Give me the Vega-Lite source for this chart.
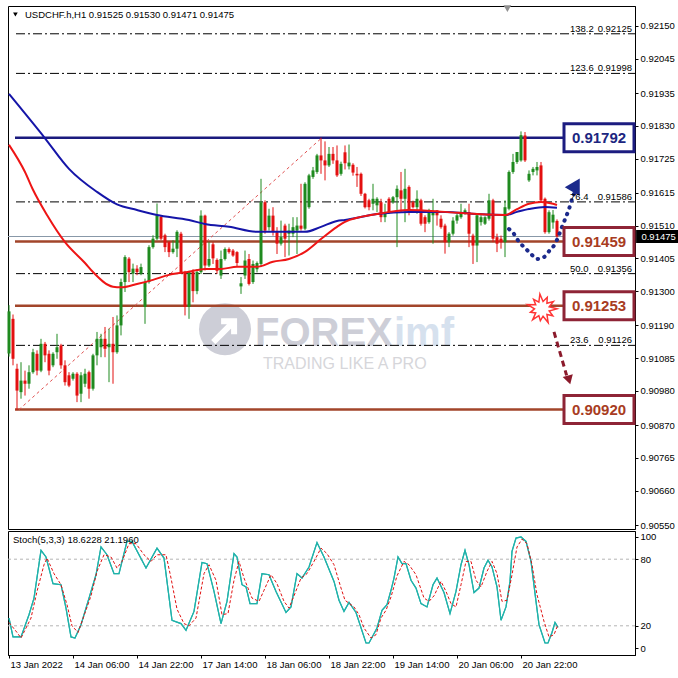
{
"$schema": "https://vega.github.io/schema/vega-lite/v6.json",
"background": "white",
"padding": {"left": 4, "top": 4, "right": 0, "bottom": 0},
"spacing": 2,
"bounds": "flush",
"config": {
  "view": {"stroke": "black", "strokeWidth": 1},
  "axis": {"labelFont": "Liberation Sans", "labelFontSize": 9.5, "labelColor": "black", "domainColor": "black", "tickColor": "black", "grid": false, "tickSize": 3, "labelPadding": 2},
  "text": {"font": "Liberation Sans"}
},
"datasets": {
  "candles": [
    {"i":0,"o":0.91100,"h":0.91255,"l":0.91090,"c":0.91235},
    {"i":1,"o":0.91211,"h":0.91225,"l":0.91062,"c":0.91083},
    {"i":2,"o":0.91051,"h":0.91067,"l":0.90918,"c":0.90981},
    {"i":3,"o":0.90976,"h":0.91072,"l":0.90955,"c":0.91013},
    {"i":4,"o":0.91013,"h":0.91045,"l":0.90965,"c":0.91003},
    {"i":5,"o":0.91003,"h":0.91062,"l":0.90987,"c":0.91040},
    {"i":6,"o":0.91040,"h":0.91115,"l":0.91035,"c":0.91104},
    {"i":7,"o":0.91099,"h":0.91110,"l":0.91030,"c":0.91045},
    {"i":8,"o":0.91045,"h":0.91147,"l":0.91040,"c":0.91131},
    {"i":9,"o":0.91131,"h":0.91137,"l":0.91072,"c":0.91094},
    {"i":10,"o":0.91099,"h":0.91110,"l":0.91030,"c":0.91045},
    {"i":11,"o":0.91062,"h":0.91104,"l":0.91056,"c":0.91099},
    {"i":12,"o":0.91104,"h":0.91163,"l":0.91083,"c":0.91120},
    {"i":13,"o":0.91126,"h":0.91131,"l":0.91051,"c":0.91062},
    {"i":14,"o":0.91062,"h":0.91078,"l":0.90997,"c":0.91008},
    {"i":15,"o":0.91030,"h":0.91040,"l":0.90992,"c":0.90997},
    {"i":16,"o":0.91019,"h":0.91040,"l":0.91013,"c":0.91035},
    {"i":17,"o":0.91035,"h":0.91040,"l":0.90944,"c":0.90965},
    {"i":18,"o":0.90971,"h":0.91040,"l":0.90944,"c":0.91030},
    {"i":19,"o":0.91003,"h":0.91051,"l":0.90992,"c":0.91035},
    {"i":20,"o":0.91040,"h":0.91045,"l":0.90955,"c":0.90987},
    {"i":21,"o":0.90987,"h":0.91099,"l":0.90981,"c":0.91094},
    {"i":22,"o":0.91094,"h":0.91169,"l":0.91062,"c":0.91147},
    {"i":23,"o":0.91120,"h":0.91163,"l":0.91088,"c":0.91147},
    {"i":24,"o":0.91147,"h":0.91185,"l":0.91088,"c":0.91115},
    {"i":25,"o":0.91120,"h":0.91179,"l":0.91008,"c":0.91131},
    {"i":26,"o":0.91131,"h":0.91217,"l":0.91003,"c":0.91104},
    {"i":27,"o":0.91104,"h":0.91222,"l":0.91099,"c":0.91190},
    {"i":28,"o":0.91190,"h":0.91340,"l":0.91158,"c":0.91329},
    {"i":29,"o":0.91329,"h":0.91415,"l":0.91297,"c":0.91409},
    {"i":30,"o":0.91404,"h":0.91409,"l":0.91329,"c":0.91361},
    {"i":31,"o":0.91356,"h":0.91388,"l":0.91329,"c":0.91372},
    {"i":32,"o":0.91372,"h":0.91383,"l":0.91351,"c":0.91361},
    {"i":33,"o":0.91356,"h":0.91388,"l":0.91351,"c":0.91377},
    {"i":34,"o":0.91249,"h":0.91340,"l":0.91195,"c":0.91329},
    {"i":35,"o":0.91329,"h":0.91447,"l":0.91324,"c":0.91441},
    {"i":36,"o":0.91441,"h":0.91479,"l":0.91436,"c":0.91468},
    {"i":37,"o":0.91468,"h":0.91581,"l":0.91463,"c":0.91543},
    {"i":38,"o":0.91538,"h":0.91543,"l":0.91463,"c":0.91468},
    {"i":39,"o":0.91479,"h":0.91484,"l":0.91425,"c":0.91441},
    {"i":40,"o":0.91457,"h":0.91460,"l":0.91409,"c":0.91425},
    {"i":41,"o":0.91425,"h":0.91463,"l":0.91420,"c":0.91436},
    {"i":42,"o":0.91436,"h":0.91495,"l":0.91409,"c":0.91490},
    {"i":43,"o":0.91484,"h":0.91490,"l":0.91355,"c":0.91361},
    {"i":44,"o":0.91361,"h":0.91365,"l":0.91222,"c":0.91249},
    {"i":45,"o":0.91249,"h":0.91365,"l":0.91211,"c":0.91361},
    {"i":46,"o":0.91361,"h":0.91370,"l":0.91264,"c":0.91300},
    {"i":47,"o":0.91300,"h":0.91370,"l":0.91290,"c":0.91361},
    {"i":48,"o":0.91361,"h":0.91559,"l":0.91355,"c":0.91542},
    {"i":49,"o":0.91542,"h":0.91545,"l":0.91366,"c":0.91382},
    {"i":50,"o":0.91382,"h":0.91457,"l":0.91377,"c":0.91403},
    {"i":51,"o":0.91450,"h":0.91457,"l":0.91387,"c":0.91405},
    {"i":52,"o":0.91400,"h":0.91405,"l":0.91355,"c":0.91365},
    {"i":53,"o":0.91350,"h":0.91430,"l":0.91339,"c":0.91403},
    {"i":54,"o":0.91403,"h":0.91440,"l":0.91398,"c":0.91435},
    {"i":55,"o":0.91435,"h":0.91440,"l":0.91420,"c":0.91425},
    {"i":56,"o":0.91430,"h":0.91435,"l":0.91410,"c":0.91414},
    {"i":57,"o":0.91425,"h":0.91428,"l":0.91380,"c":0.91390},
    {"i":58,"o":0.91315,"h":0.91345,"l":0.91291,"c":0.91325},
    {"i":59,"o":0.91350,"h":0.91430,"l":0.91339,"c":0.91398},
    {"i":60,"o":0.91403,"h":0.91419,"l":0.91318,"c":0.91323},
    {"i":61,"o":0.91329,"h":0.91398,"l":0.91323,"c":0.91387},
    {"i":62,"o":0.91370,"h":0.91395,"l":0.91360,"c":0.91390},
    {"i":63,"o":0.91387,"h":0.91660,"l":0.91377,"c":0.91585},
    {"i":64,"o":0.91585,"h":0.91591,"l":0.91484,"c":0.91494},
    {"i":65,"o":0.91505,"h":0.91564,"l":0.91494,"c":0.91542},
    {"i":66,"o":0.91542,"h":0.91569,"l":0.91478,"c":0.91489},
    {"i":67,"o":0.91489,"h":0.91505,"l":0.91419,"c":0.91452},
    {"i":68,"o":0.91452,"h":0.91526,"l":0.91446,"c":0.91473},
    {"i":69,"o":0.91510,"h":0.91516,"l":0.91409,"c":0.91468},
    {"i":70,"o":0.91484,"h":0.91516,"l":0.91414,"c":0.91494},
    {"i":71,"o":0.91484,"h":0.91537,"l":0.91473,"c":0.91505},
    {"i":72,"o":0.91494,"h":0.91537,"l":0.91419,"c":0.91510},
    {"i":73,"o":0.91510,"h":0.91644,"l":0.91494,"c":0.91500},
    {"i":74,"o":0.91500,"h":0.91649,"l":0.91495,"c":0.91644},
    {"i":75,"o":0.91569,"h":0.91676,"l":0.91564,"c":0.91671},
    {"i":76,"o":0.91666,"h":0.91698,"l":0.91660,"c":0.91687},
    {"i":77,"o":0.91682,"h":0.91740,"l":0.91676,"c":0.91735},
    {"i":78,"o":0.91735,"h":0.91792,"l":0.91676,"c":0.91719},
    {"i":79,"o":0.91719,"h":0.91780,"l":0.91655,"c":0.91703},
    {"i":80,"o":0.91703,"h":0.91762,"l":0.91698,"c":0.91740},
    {"i":81,"o":0.91740,"h":0.91762,"l":0.91708,"c":0.91719},
    {"i":82,"o":0.91719,"h":0.91767,"l":0.91666,"c":0.91671},
    {"i":83,"o":0.91676,"h":0.91715,"l":0.91670,"c":0.91708},
    {"i":84,"o":0.91745,"h":0.91767,"l":0.91690,"c":0.91710},
    {"i":85,"o":0.91700,"h":0.91770,"l":0.91690,"c":0.91712},
    {"i":86,"o":0.91705,"h":0.91710,"l":0.91670,"c":0.91680},
    {"i":87,"o":0.91676,"h":0.91698,"l":0.91634,"c":0.91671},
    {"i":88,"o":0.91676,"h":0.91680,"l":0.91605,"c":0.91612},
    {"i":89,"o":0.91612,"h":0.91615,"l":0.91565,"c":0.91569},
    {"i":90,"o":0.91591,"h":0.91596,"l":0.91559,"c":0.91569},
    {"i":91,"o":0.91580,"h":0.91644,"l":0.91559,"c":0.91596},
    {"i":92,"o":0.91575,"h":0.91601,"l":0.91553,"c":0.91596},
    {"i":93,"o":0.91585,"h":0.91596,"l":0.91521,"c":0.91537},
    {"i":94,"o":0.91537,"h":0.91580,"l":0.91521,"c":0.91553},
    {"i":95,"o":0.91596,"h":0.91601,"l":0.91548,"c":0.91553},
    {"i":96,"o":0.91585,"h":0.91605,"l":0.91580,"c":0.91601},
    {"i":97,"o":0.91601,"h":0.91639,"l":0.91441,"c":0.91628},
    {"i":98,"o":0.91623,"h":0.91682,"l":0.91553,"c":0.91596},
    {"i":99,"o":0.91596,"h":0.91692,"l":0.91521,"c":0.91628},
    {"i":100,"o":0.91634,"h":0.91639,"l":0.91543,"c":0.91559},
    {"i":101,"o":0.91585,"h":0.91590,"l":0.91565,"c":0.91569},
    {"i":102,"o":0.91569,"h":0.91623,"l":0.91548,"c":0.91596},
    {"i":103,"o":0.91591,"h":0.91596,"l":0.91510,"c":0.91516},
    {"i":104,"o":0.91537,"h":0.91543,"l":0.91489,"c":0.91516},
    {"i":105,"o":0.91521,"h":0.91564,"l":0.91516,"c":0.91553},
    {"i":106,"o":0.91543,"h":0.91596,"l":0.91452,"c":0.91553},
    {"i":107,"o":0.91559,"h":0.91560,"l":0.91510,"c":0.91543},
    {"i":108,"o":0.91532,"h":0.91543,"l":0.91500,"c":0.91505},
    {"i":109,"o":0.91510,"h":0.91516,"l":0.91420,"c":0.91457},
    {"i":110,"o":0.91457,"h":0.91489,"l":0.91441,"c":0.91484},
    {"i":111,"o":0.91484,"h":0.91537,"l":0.91478,"c":0.91526},
    {"i":112,"o":0.91526,"h":0.91548,"l":0.91516,"c":0.91543},
    {"i":113,"o":0.91537,"h":0.91580,"l":0.91532,"c":0.91553},
    {"i":114,"o":0.91548,"h":0.91565,"l":0.91545,"c":0.91559},
    {"i":115,"o":0.91553,"h":0.91580,"l":0.91441,"c":0.91484},
    {"i":116,"o":0.91478,"h":0.91484,"l":0.91387,"c":0.91446},
    {"i":117,"o":0.91446,"h":0.91548,"l":0.91393,"c":0.91543},
    {"i":118,"o":0.91521,"h":0.91543,"l":0.91510,"c":0.91537},
    {"i":119,"o":0.91516,"h":0.91540,"l":0.91512,"c":0.91537},
    {"i":120,"o":0.91532,"h":0.91612,"l":0.91526,"c":0.91591},
    {"i":121,"o":0.91591,"h":0.91596,"l":0.91457,"c":0.91468},
    {"i":122,"o":0.91473,"h":0.91484,"l":0.91425,"c":0.91452},
    {"i":123,"o":0.91468,"h":0.91478,"l":0.91436,"c":0.91457},
    {"i":124,"o":0.91457,"h":0.91591,"l":0.91409,"c":0.91569},
    {"i":125,"o":0.91564,"h":0.91687,"l":0.91559,"c":0.91682},
    {"i":126,"o":0.91682,"h":0.91740,"l":0.91676,"c":0.91714},
    {"i":127,"o":0.91714,"h":0.91746,"l":0.91708,"c":0.91746},
    {"i":128,"o":0.91719,"h":0.91812,"l":0.91715,"c":0.91800},
    {"i":129,"o":0.91799,"h":0.91810,"l":0.91714,"c":0.91719},
    {"i":130,"o":0.91655,"h":0.91687,"l":0.91650,"c":0.91676},
    {"i":131,"o":0.91682,"h":0.91698,"l":0.91671,"c":0.91692},
    {"i":132,"o":0.91687,"h":0.91714,"l":0.91671,"c":0.91698},
    {"i":133,"o":0.91703,"h":0.91714,"l":0.91585,"c":0.91591},
    {"i":134,"o":0.91596,"h":0.91600,"l":0.91484,"c":0.91489},
    {"i":135,"o":0.91489,"h":0.91559,"l":0.91484,"c":0.91553},
    {"i":136,"o":0.91520,"h":0.91560,"l":0.91500,"c":0.91545},
    {"i":137,"o":0.91525,"h":0.91530,"l":0.91471,"c":0.91475}
  ],
  "ma": [
    {"s":"fast","i":0,"v":0.91769},{"s":"fast","i":4,"v":0.91682},{"s":"fast","i":6,"v":0.91625},{"s":"fast","i":9.5,"v":0.91544},{"s":"fast","i":14,"v":0.91457},{"s":"fast","i":19,"v":0.91390},{"s":"fast","i":21,"v":0.91361},{"s":"fast","i":26,"v":0.91314},{"s":"fast","i":28,"v":0.91312},{"s":"fast","i":32,"v":0.91323},{"s":"fast","i":36,"v":0.91336},{"s":"fast","i":40,"v":0.91352},{"s":"fast","i":45,"v":0.91362},{"s":"fast","i":49,"v":0.91371},{"s":"fast","i":53,"v":0.91371},{"s":"fast","i":57,"v":0.91378},{"s":"fast","i":62,"v":0.91378},{"s":"fast","i":66,"v":0.91394},{"s":"fast","i":70,"v":0.91403},{"s":"fast","i":74,"v":0.91426},{"s":"fast","i":78,"v":0.91467},{"s":"fast","i":82,"v":0.91506},{"s":"fast","i":84,"v":0.91522},{"s":"fast","i":92,"v":0.91547},{"s":"fast","i":100,"v":0.91560},{"s":"fast","i":109,"v":0.91554},{"s":"fast","i":117,"v":0.91547},{"s":"fast","i":124,"v":0.91544},{"s":"fast","i":127,"v":0.91563},{"s":"fast","i":130,"v":0.91580},{"s":"fast","i":133,"v":0.91586},{"s":"fast","i":136,"v":0.91580},{"s":"fast","i":137,"v":0.91576},
    {"s":"slow","i":0,"v":0.91932},{"s":"slow","i":9,"v":0.91790},{"s":"slow","i":15,"v":0.91692},{"s":"slow","i":22,"v":0.91618},{"s":"slow","i":27,"v":0.91578},{"s":"slow","i":32,"v":0.91560},{"s":"slow","i":37,"v":0.91544},{"s":"slow","i":45,"v":0.91528},{"s":"slow","i":49,"v":0.91515},{"s":"slow","i":55,"v":0.91506},{"s":"slow","i":62,"v":0.91490},{"s":"slow","i":74,"v":0.91490},{"s":"slow","i":78,"v":0.91506},{"s":"slow","i":82,"v":0.91525},{"s":"slow","i":84,"v":0.91528},{"s":"slow","i":92,"v":0.91547},{"s":"slow","i":100,"v":0.91554},{"s":"slow","i":109,"v":0.91554},{"s":"slow","i":117,"v":0.91547},{"s":"slow","i":124,"v":0.91544},{"s":"slow","i":127,"v":0.91554},{"s":"slow","i":130,"v":0.91563},{"s":"slow","i":134,"v":0.91570},{"s":"slow","i":137,"v":0.91567}
  ],
  "stoch": [
    {"s":"main","i":0,"v":27},{"s":"main","i":1,"v":10},{"s":"main","i":3,"v":10},{"s":"main","i":5,"v":30},{"s":"main","i":6.25,"v":45},{"s":"main","i":8,"v":88},{"s":"main","i":9.25,"v":82},{"s":"main","i":11,"v":58},{"s":"main","i":13,"v":57},{"s":"main","i":14.25,"v":36},{"s":"main","i":15.5,"v":10},{"s":"main","i":16.5,"v":9},{"s":"main","i":18,"v":21},{"s":"main","i":20,"v":45},{"s":"main","i":21.75,"v":66},{"s":"main","i":23,"v":91},{"s":"main","i":24.5,"v":84},{"s":"main","i":26.25,"v":67},{"s":"main","i":27.5,"v":67},{"s":"main","i":29.5,"v":96},{"s":"main","i":30.75,"v":96},{"s":"main","i":34.25,"v":72},{"s":"main","i":37,"v":90},{"s":"main","i":38.75,"v":81},{"s":"main","i":40.75,"v":25},{"s":"main","i":43,"v":22},{"s":"main","i":44.25,"v":16},{"s":"main","i":46.25,"v":33},{"s":"main","i":48.25,"v":77},{"s":"main","i":49.5,"v":76},{"s":"main","i":51.25,"v":51},{"s":"main","i":53,"v":22},{"s":"main","i":54.5,"v":42},{"s":"main","i":56.25,"v":85},{"s":"main","i":57,"v":82},{"s":"main","i":58.25,"v":57},{"s":"main","i":59.25,"v":55},{"s":"main","i":60.25,"v":40},{"s":"main","i":62,"v":40},{"s":"main","i":63.25,"v":67},{"s":"main","i":65,"v":66},{"s":"main","i":66.75,"v":51},{"s":"main","i":69.25,"v":32},{"s":"main","i":70.5,"v":37},{"s":"main","i":72,"v":67},{"s":"main","i":73.25,"v":63},{"s":"main","i":75,"v":73},{"s":"main","i":77,"v":95},{"s":"main","i":78.75,"v":82},{"s":"main","i":81.25,"v":60},{"s":"main","i":82.5,"v":43},{"s":"main","i":83.75,"v":33},{"s":"main","i":85,"v":41},{"s":"main","i":86.75,"v":32},{"s":"main","i":89.25,"v":4.5},{"s":"main","i":90,"v":4.5},{"s":"main","i":92,"v":18},{"s":"main","i":93.25,"v":34},{"s":"main","i":94.5,"v":39},{"s":"main","i":95.5,"v":52},{"s":"main","i":96.25,"v":63},{"s":"main","i":97.25,"v":82},{"s":"main","i":98.25,"v":76},{"s":"main","i":99.25,"v":76},{"s":"main","i":100.5,"v":61},{"s":"main","i":101.75,"v":54},{"s":"main","i":103,"v":40},{"s":"main","i":104.5,"v":37},{"s":"main","i":106,"v":57},{"s":"main","i":107,"v":63},{"s":"main","i":108.75,"v":50},{"s":"main","i":110.25,"v":31},{"s":"main","i":111.75,"v":51},{"s":"main","i":113,"v":75},{"s":"main","i":114,"v":88},{"s":"main","i":115,"v":75},{"s":"main","i":116.25,"v":50},{"s":"main","i":117.5,"v":54},{"s":"main","i":118.75,"v":72},{"s":"main","i":119.75,"v":79},{"s":"main","i":120.75,"v":73},{"s":"main","i":122,"v":55},{"s":"main","i":123,"v":25},{"s":"main","i":124.25,"v":37},{"s":"main","i":125.25,"v":60},{"s":"main","i":125.75,"v":87},{"s":"main","i":126.75,"v":99},{"s":"main","i":128,"v":100},{"s":"main","i":129.25,"v":96},{"s":"main","i":130.5,"v":78},{"s":"main","i":131.75,"v":42},{"s":"main","i":132.5,"v":21},{"s":"main","i":134,"v":4.5},{"s":"main","i":134.75,"v":4.5},{"s":"main","i":135.75,"v":14},{"s":"main","i":136.5,"v":23},{"s":"main","i":137.25,"v":18.6},
    {"s":"signal","i":0,"v":23},{"s":"signal","i":2,"v":14},{"s":"signal","i":3,"v":9},{"s":"signal","i":5.5,"v":27},{"s":"signal","i":7,"v":51},{"s":"signal","i":8.75,"v":75},{"s":"signal","i":9.5,"v":81},{"s":"signal","i":11.25,"v":67},{"s":"signal","i":13,"v":57},{"s":"signal","i":14.5,"v":39},{"s":"signal","i":15.75,"v":20},{"s":"signal","i":17.25,"v":14},{"s":"signal","i":18.75,"v":29},{"s":"signal","i":20.5,"v":47},{"s":"signal","i":22,"v":69},{"s":"signal","i":23.75,"v":84},{"s":"signal","i":25.5,"v":82},{"s":"signal","i":27,"v":72},{"s":"signal","i":28.25,"v":78},{"s":"signal","i":30,"v":94},{"s":"signal","i":31.75,"v":94},{"s":"signal","i":33.75,"v":84},{"s":"signal","i":35.5,"v":78},{"s":"signal","i":37,"v":84},{"s":"signal","i":39.25,"v":84},{"s":"signal","i":40.5,"v":63},{"s":"signal","i":42,"v":35},{"s":"signal","i":43.75,"v":22},{"s":"signal","i":45,"v":20},{"s":"signal","i":46.75,"v":27},{"s":"signal","i":48.75,"v":67},{"s":"signal","i":50,"v":75},{"s":"signal","i":51.75,"v":61},{"s":"signal","i":53.25,"v":30},{"s":"signal","i":54.75,"v":31},{"s":"signal","i":56.25,"v":61},{"s":"signal","i":57.5,"v":78},{"s":"signal","i":58.75,"v":63},{"s":"signal","i":60.75,"v":45},{"s":"signal","i":62.5,"v":42},{"s":"signal","i":63.75,"v":52},{"s":"signal","i":65.5,"v":66},{"s":"signal","i":67,"v":58},{"s":"signal","i":68.75,"v":42},{"s":"signal","i":70,"v":36},{"s":"signal","i":71.25,"v":47},{"s":"signal","i":73,"v":63},{"s":"signal","i":74.5,"v":67},{"s":"signal","i":76.25,"v":78},{"s":"signal","i":78,"v":90},{"s":"signal","i":79.5,"v":85},{"s":"signal","i":81.25,"v":75},{"s":"signal","i":83,"v":54},{"s":"signal","i":84,"v":43},{"s":"signal","i":86.25,"v":37},{"s":"signal","i":87.5,"v":30},{"s":"signal","i":88.75,"v":18},{"s":"signal","i":90.5,"v":9},{"s":"signal","i":91.75,"v":12},{"s":"signal","i":93,"v":27},{"s":"signal","i":94.25,"v":34},{"s":"signal","i":95.5,"v":46},{"s":"signal","i":97,"v":65},{"s":"signal","i":98.75,"v":78},{"s":"signal","i":100,"v":75},{"s":"signal","i":101.75,"v":66},{"s":"signal","i":103.75,"v":45},{"s":"signal","i":105,"v":42},{"s":"signal","i":106.25,"v":47},{"s":"signal","i":108,"v":60},{"s":"signal","i":109.25,"v":51},{"s":"signal","i":110.5,"v":40},{"s":"signal","i":111.75,"v":37},{"s":"signal","i":113,"v":57},{"s":"signal","i":114.25,"v":78},{"s":"signal","i":115.5,"v":78},{"s":"signal","i":116.75,"v":61},{"s":"signal","i":118,"v":55},{"s":"signal","i":119.5,"v":69},{"s":"signal","i":120.75,"v":78},{"s":"signal","i":122,"v":67},{"s":"signal","i":123.25,"v":42},{"s":"signal","i":124.5,"v":43},{"s":"signal","i":125.75,"v":66},{"s":"signal","i":127,"v":91},{"s":"signal","i":128.25,"v":98},{"s":"signal","i":129.5,"v":94},{"s":"signal","i":130.75,"v":75},{"s":"signal","i":132,"v":48},{"s":"signal","i":133.75,"v":24},{"s":"signal","i":135,"v":10},{"s":"signal","i":136.25,"v":12},{"s":"signal","i":137.25,"v":21.2}
  ],
  "fib": [
    {"lvl":"138.2","val":"0.92125","p":0.92125},
    {"lvl":"123.6","val":"0.91998","p":0.91998},
    {"lvl":"76.4","val":"0.91586","p":0.91586},
    {"lvl":"50.0","val":"0.91356","p":0.91356},
    {"lvl":"23.6","val":"0.91126","p":0.91126}
  ],
  "levels": [
    {"t":"0.91792","p":0.91792},
    {"t":"0.91459","p":0.91459},
    {"t":"0.91253","p":0.91253},
    {"t":"0.90920","p":0.90920}
  ],
  "path": [
    {"i":125,"p":0.91499},{"i":126.25,"p":0.91483},{"i":127,"p":0.91467},{"i":128,"p":0.91451},{"i":129.25,"p":0.91435},{"i":130.5,"p":0.91419},{"i":132,"p":0.91403},{"i":133.75,"p":0.91409},{"i":135.25,"p":0.91432},{"i":136.5,"p":0.91451},{"i":137.5,"p":0.91480},{"i":138.25,"p":0.91506},{"i":139.25,"p":0.91538},{"i":140,"p":0.91563},{"i":140.75,"p":0.91595},{"i":141.25,"p":0.91611}
  ]
},
"vconcat": [
  {
    "width": 627,
    "height": 523,
    "layer": [
      {
        "data": {"name": "candles"},
        "mark": {"type": "rule", "strokeWidth": 1, "opacity": 0},
        "encoding": {
          "x": {"field": "i", "type": "quantitative", "scale": {"domain": [-0.25, 156.5], "nice": false, "zero": false}, "axis": null},
          "y": {"field": "l", "type": "quantitative", "title": null, "scale": {"domain": [0.905372, 0.922141], "nice": false, "zero": false},
                "axis": {"orient": "right", "title": null, "values": [0.9215, 0.92045, 0.91935, 0.9183, 0.91725, 0.91615, 0.9151, 0.91405, 0.913, 0.9119, 0.91085, 0.9098, 0.9087, 0.90765, 0.9066, 0.9055], "tickCount": 40, "format": ".5f", "labelOverlap": false, "labelFlush": false}}
        }
      },
      {
        "data": {"values": [{"t": "logo"}]},
        "mark": {"type": "point", "shape": "circle", "size": 2704, "filled": true, "color": "#cdced7", "opacity": 1},
        "encoding": {"x": {"datum": 54, "type": "quantitative", "axis": null}, "y": {"datum": 0.91178, "type": "quantitative", "title": null}}
      },
      {
        "data": {"values": [{"t": "logo"}]},
        "mark": {"type": "point", "shape": "M-0.45,0.5L0.3,-0.25M-0.15,-0.3L0.35,-0.3L0.35,0.2", "size": 2704, "filled": false, "stroke": "white", "strokeWidth": 6, "opacity": 1},
        "encoding": {"x": {"datum": 54, "type": "quantitative", "axis": null}, "y": {"datum": 0.91178, "type": "quantitative", "title": null}}
      },
      {
        "data": {"values": [{"t": "FOREX"}]},
        "mark": {"type": "text", "align": "left", "baseline": "alphabetic", "fontSize": 40, "fontWeight": "bold", "color": "#cdced7"},
        "encoding": {"x": {"datum": 61.5, "type": "quantitative", "axis": null}, "y": {"datum": 0.91124, "type": "quantitative", "title": null}, "text": {"field": "t"}}
      },
      {
        "data": {"values": [{"t": "imf"}]},
        "mark": {"type": "text", "align": "left", "baseline": "alphabetic", "fontSize": 40, "fontWeight": "bold", "color": "#d6e1ee"},
        "encoding": {"x": {"datum": 96.25, "type": "quantitative", "axis": null}, "y": {"datum": 0.91124, "type": "quantitative", "title": null}, "text": {"field": "t"}}
      },
      {
        "data": {"values": [{"t": "TRADING LIKE A PRO"}]},
        "mark": {"type": "text", "align": "left", "baseline": "middle", "fontSize": 16, "color": "#d6d6da"},
        "encoding": {"x": {"datum": 63.5, "type": "quantitative", "axis": null}, "y": {"datum": 0.91066, "type": "quantitative", "title": null}, "text": {"field": "t"}}
      },
      {
        "data": {"name": "fib"},
        "mark": {"type": "rule", "color": "black", "strokeWidth": 1, "strokeDash": [9, 3, 2, 3]},
        "encoding": {"x": {"datum": 1.75, "type": "quantitative", "axis": null}, "x2": {"datum": 156.5}, "y": {"field": "p", "type": "quantitative", "title": null}}
      },
      {
        "data": {"values": [{"p": 0.91475}]},
        "mark": {"type": "rule", "color": "#8898a8", "strokeWidth": 1},
        "encoding": {"x": {"datum": -0.25, "type": "quantitative", "axis": null}, "x2": {"datum": 156.5}, "y": {"field": "p", "type": "quantitative", "title": null}}
      },
      {
        "data": {"name": "levels"},
        "mark": {"type": "rule", "strokeWidth": 2.5},
        "encoding": {
          "x": {"datum": 1.5, "type": "quantitative", "axis": null}, "x2": {"datum": 156.5},
          "y": {"field": "p", "type": "quantitative", "title": null},
          "color": {"condition": {"test": "datum.p > 0.917", "value": "#1a1a7e"}, "value": "#a2452a"}
        }
      },
      {
        "data": {"values": [{"i": 2.5, "p": 0.9092}, {"i": 78.25, "p": 0.91792}]},
        "mark": {"type": "line", "color": "#e05050", "strokeWidth": 1, "strokeDash": [3, 3]},
        "encoding": {"x": {"field": "i", "type": "quantitative", "axis": null}, "y": {"field": "p", "type": "quantitative", "title": null}}
      },
      {
        "data": {"name": "candles"},
        "mark": {"type": "rule", "strokeWidth": 1},
        "encoding": {
          "x": {"field": "i", "type": "quantitative", "axis": null},
          "y": {"field": "l", "type": "quantitative", "title": null},
          "y2": {"field": "h"},
          "color": {"condition": {"test": "datum.c >= datum.o", "value": "#1f8a1f"}, "value": "#e31010"}
        }
      },
      {
        "data": {"name": "candles"},
        "mark": {"type": "rule", "strokeWidth": 3},
        "encoding": {
          "x": {"field": "i", "type": "quantitative", "axis": null},
          "y": {"field": "o", "type": "quantitative", "title": null},
          "y2": {"field": "c"},
          "color": {"condition": {"test": "datum.c >= datum.o", "value": "#1f8a1f"}, "value": "#e31010"}
        }
      },
      {
        "data": {"name": "ma"},
        "transform": [{"filter": "datum.s == 'slow'"}],
        "mark": {"type": "line", "color": "#1515a8", "strokeWidth": 2, "interpolate": "monotone"},
        "encoding": {"x": {"field": "i", "type": "quantitative", "axis": null}, "y": {"field": "v", "type": "quantitative", "title": null}}
      },
      {
        "data": {"name": "ma"},
        "transform": [{"filter": "datum.s == 'fast'"}],
        "mark": {"type": "line", "color": "#ee1515", "strokeWidth": 2, "interpolate": "monotone"},
        "encoding": {"x": {"field": "i", "type": "quantitative", "axis": null}, "y": {"field": "v", "type": "quantitative", "title": null}}
      },
      {
        "data": {"name": "path"},
        "mark": {"type": "line", "color": "#1c2a8c", "strokeWidth": 4, "strokeDash": [0.5, 6.5], "strokeCap": "round", "interpolate": "monotone"},
        "encoding": {"x": {"field": "i", "type": "quantitative", "axis": null}, "y": {"field": "p", "type": "quantitative", "title": null}}
      },
      {
        "data": {"values": [{"t": "up"}]},
        "mark": {"type": "point", "shape": "triangle-up", "size": 300, "angle": 30, "filled": true, "color": "#1c2a8c", "opacity": 1},
        "encoding": {"x": {"datum": 141.75, "type": "quantitative", "axis": null}, "y": {"datum": 0.9164, "type": "quantitative", "title": null}}
      },
      {
        "data": {"values": [{"i": 136.25, "p": 0.91169}, {"i": 139.4, "p": 0.91030}]},
        "mark": {"type": "line", "color": "#8b1a2b", "strokeWidth": 3, "strokeDash": [6, 4]},
        "encoding": {"x": {"field": "i", "type": "quantitative", "axis": null}, "y": {"field": "p", "type": "quantitative", "title": null}}
      },
      {
        "data": {"values": [{"t": "down"}]},
        "mark": {"type": "point", "shape": "triangle-down", "size": 110, "angle": -16, "filled": true, "color": "#8b1a2b", "opacity": 1},
        "encoding": {"x": {"datum": 140, "type": "quantitative", "axis": null}, "y": {"datum": 0.91015, "type": "quantitative", "title": null}}
      },
      {
        "data": {"values": [{"t": "burst"}]},
        "mark": {"type": "point", "shape": "M1,0L0.48,0.14L0.72,0.46L0.33,0.38L0.41,0.91L0.07,0.49L-0.11,0.79L-0.21,0.45L-0.62,0.72L-0.42,0.27L-0.77,0.23L-0.5,0L-0.96,-0.28L-0.42,-0.27L-0.56,-0.64L-0.21,-0.45L-0.14,-0.99L0.07,-0.49L0.35,-0.77L0.33,-0.38L0.76,-0.49L0.48,-0.14Z", "size": 900, "fill": "white", "fillOpacity": 1, "stroke": "#ff3535", "strokeWidth": 1.5, "opacity": 1},
        "encoding": {"x": {"datum": 133.25, "type": "quantitative", "axis": null}, "y": {"datum": 0.91243, "type": "quantitative", "title": null}}
      },
      {
        "data": {"name": "levels"},
        "mark": {"type": "point", "shape": "M-2.5,-1H2.5V1H-2.5Z", "size": 784, "fill": "white", "fillOpacity": 1, "strokeWidth": 3, "opacity": 1},
        "encoding": {
          "x": {"datum": 147.5, "type": "quantitative", "axis": null},
          "y": {"field": "p", "type": "quantitative", "title": null},
          "stroke": {"condition": {"test": "datum.p > 0.917", "value": "#1c1c80"}, "value": "#8e2436"}
        }
      },
      {
        "data": {"name": "levels"},
        "mark": {"type": "text", "fontSize": 15, "fontWeight": "bold", "align": "center", "baseline": "middle"},
        "encoding": {
          "x": {"datum": 147.5, "type": "quantitative", "axis": null},
          "y": {"field": "p", "type": "quantitative", "title": null},
          "text": {"field": "t"},
          "color": {"condition": {"test": "datum.p > 0.917", "value": "#1c2680"}, "value": "#a83c22"}
        }
      },
      {
        "data": {"name": "fib"},
        "mark": {"type": "text", "fontSize": 9.5, "align": "left", "baseline": "alphabetic", "dy": -2, "color": "black"},
        "encoding": {"x": {"datum": 140.25, "type": "quantitative", "axis": null}, "y": {"field": "p", "type": "quantitative", "title": null}, "text": {"field": "lvl"}}
      },
      {
        "data": {"name": "fib"},
        "mark": {"type": "text", "fontSize": 9.5, "align": "right", "baseline": "alphabetic", "dy": -2, "color": "black"},
        "encoding": {"x": {"datum": 155.75, "type": "quantitative", "axis": null}, "y": {"field": "p", "type": "quantitative", "title": null}, "text": {"field": "val"}}
      },
      {
        "data": {"values": [{"t": "0.91475"}]},
        "mark": {"type": "point", "shape": "M-1.73,-0.5H1.73V0.5H-1.73Z", "size": 676, "filled": true, "color": "black", "opacity": 1},
        "encoding": {"x": {"datum": 162.4, "type": "quantitative", "axis": null}, "y": {"datum": 0.91475, "type": "quantitative", "title": null}}
      },
      {
        "data": {"values": [{"t": "0.91475"}]},
        "mark": {"type": "text", "fontSize": 9.5, "align": "center", "baseline": "middle", "color": "white"},
        "encoding": {"x": {"datum": 162.4, "type": "quantitative", "axis": null}, "y": {"datum": 0.91475, "type": "quantitative", "title": null}, "text": {"field": "t"}}
      },
      {
        "data": {"values": [{"t": "hdr"}]},
        "mark": {"type": "point", "shape": "triangle-down", "size": 22, "filled": true, "color": "black", "opacity": 1},
        "encoding": {"x": {"datum": 1.6, "type": "quantitative", "axis": null}, "y": {"datum": 0.92187, "type": "quantitative", "title": null}}
      },
      {
        "data": {"values": [{"t": "USDCHF.h,H1  0.91525 0.91530 0.91471 0.91475"}]},
        "mark": {"type": "text", "fontSize": 9.5, "align": "left", "baseline": "middle", "color": "black"},
        "encoding": {"x": {"datum": 4, "type": "quantitative", "axis": null}, "y": {"datum": 0.92185, "type": "quantitative", "title": null}, "text": {"field": "t"}}
      },
      {
        "data": {"values": [{"t": "shift"}]},
        "mark": {"type": "point", "shape": "triangle-down", "size": 60, "filled": true, "color": "#909090", "opacity": 1},
        "encoding": {"x": {"datum": 124.6, "type": "quantitative", "axis": null}, "y": {"datum": 0.92206, "type": "quantitative", "title": null}}
      }
    ]
  },
  {
    "width": 627,
    "height": 124,
    "layer": [
      {
        "data": {"name": "stoch"},
        "transform": [{"filter": "datum.s == 'main'"}],
        "mark": {"type": "line", "color": "#20b2aa", "strokeWidth": 1.2},
        "encoding": {
          "x": {"field": "i", "type": "quantitative", "title": null, "scale": {"domain": [-0.25, 156.5], "nice": false, "zero": false},
                "axis": {"orient": "bottom", "title": null, "values": [0, 16, 32, 48, 64, 80, 96, 112, 128], "tickCount": 20, "labelExpr": "['13 Jan 2022','14 Jan 06:00','14 Jan 22:00','17 Jan 14:00','18 Jan 06:00','18 Jan 22:00','19 Jan 14:00','20 Jan 06:00','20 Jan 22:00'][round(datum.value/16)]", "labelAlign": "left", "labelFlush": false, "labelOverlap": false, "labelPadding": 1, "labelOffset": 1}},
          "y": {"field": "v", "type": "quantitative", "title": null, "scale": {"domain": [-6.3, 105.4], "nice": false, "zero": false},
                "axis": {"orient": "right", "title": null, "values": [0, 20, 80, 100], "tickCount": 10, "format": "d", "labelOverlap": false, "labelFlush": false}}
        }
      },
      {
        "data": {"values": [{"v": 80}, {"v": 20}]},
        "mark": {"type": "rule", "color": "#b4b4b4", "strokeWidth": 1, "strokeDash": [3, 3]},
        "encoding": {"x": {"datum": -0.25, "type": "quantitative", "title": null}, "x2": {"datum": 156.5}, "y": {"field": "v", "type": "quantitative", "title": null}}
      },
      {
        "data": {"name": "stoch"},
        "transform": [{"filter": "datum.s == 'main'"}],
        "mark": {"type": "line", "color": "#20b2aa", "strokeWidth": 1.2},
        "encoding": {"x": {"field": "i", "type": "quantitative", "title": null}, "y": {"field": "v", "type": "quantitative", "title": null}}
      },
      {
        "data": {"name": "stoch"},
        "transform": [{"filter": "datum.s == 'signal'"}],
        "mark": {"type": "line", "color": "#e01010", "strokeWidth": 1, "strokeDash": [3, 2]},
        "encoding": {"x": {"field": "i", "type": "quantitative", "title": null}, "y": {"field": "v", "type": "quantitative", "title": null}}
      },
      {
        "data": {"values": [{"t": "Stoch(5,3,3) 18.6228 21.1960"}]},
        "mark": {"type": "text", "fontSize": 9.5, "align": "left", "baseline": "middle", "color": "black"},
        "encoding": {"x": {"datum": 1, "type": "quantitative", "title": null}, "y": {"datum": 97.3, "type": "quantitative", "title": null}, "text": {"field": "t"}}
      }
    ]
  }
]
}
